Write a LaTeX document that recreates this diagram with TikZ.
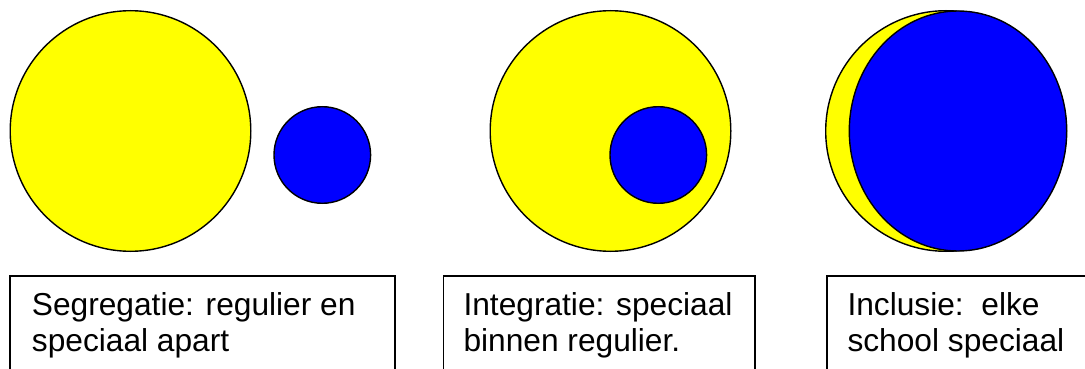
\documentclass[tikz,border=0pt]{standalone}
\usepackage{fontspec}
\setmainfont{Liberation Sans}
\usetikzlibrary{shapes.geometric}
\definecolor{pureyellow}{RGB}{255,255,0}
\definecolor{pureblue}{RGB}{0,0,255}
\begin{document}
\begin{tikzpicture}[x=1pt,y=-1pt,
  ring/.style={draw=black, line width=1.4pt, inner sep=0pt},
  bigc/.style={ring, circle, fill=pureyellow, minimum size=240.6pt},
  smallc/.style={ring, circle, fill=pureblue, minimum size=96.6pt},
  labelbox/.style={draw=black, line width=1.5pt, rectangle, inner sep=0pt, anchor=north west},
  lbl/.style={anchor=base west, inner sep=0pt, font=\fontsize{31.7}{36.7}\selectfont}
]
\clip (0,0) rectangle (1085,369);
\useasboundingbox (0,0) rectangle (1085,369);
% circles
\node[bigc] (y1) at (130.5,131) {};
\node[smallc] (b1) at (322.3,155) {};
\node[bigc] (y2) at (610.5,131) {};
\node[smallc] (b2) at (658.3,155) {};
\node[bigc] (y3) at (946,131) {};
\node[ring, ellipse, fill=pureblue, minimum width=217.4pt, minimum height=240pt] (b3) at (958,131) {};
% boxes
\node[labelbox, minimum width=384.7pt, minimum height=130pt] (box1) at (9.3,275) {};
\node[labelbox, minimum width=311.6pt, minimum height=130pt] (box2) at (442.7,275) {};
\node[labelbox, minimum width=300pt, minimum height=130pt] (box3) at (826,275) {};
% texts
\node[lbl] (t1a) at (31.7,315) {Segregatie: regulier en};
\node[lbl] (t1b) at (31.7,351.7) {speciaal apart};
\node[lbl] (t2a) at (463.3,315) {Integratie: speciaal};
\node[lbl] (t2b) at (463.3,351.7) {binnen regulier.};
\node[lbl] (t3a) at (847.3,315) {Inclusie:\ \ elke};
\node[lbl] (t3b) at (847.3,351.7) {school speciaal};
\end{tikzpicture}
\end{document}
